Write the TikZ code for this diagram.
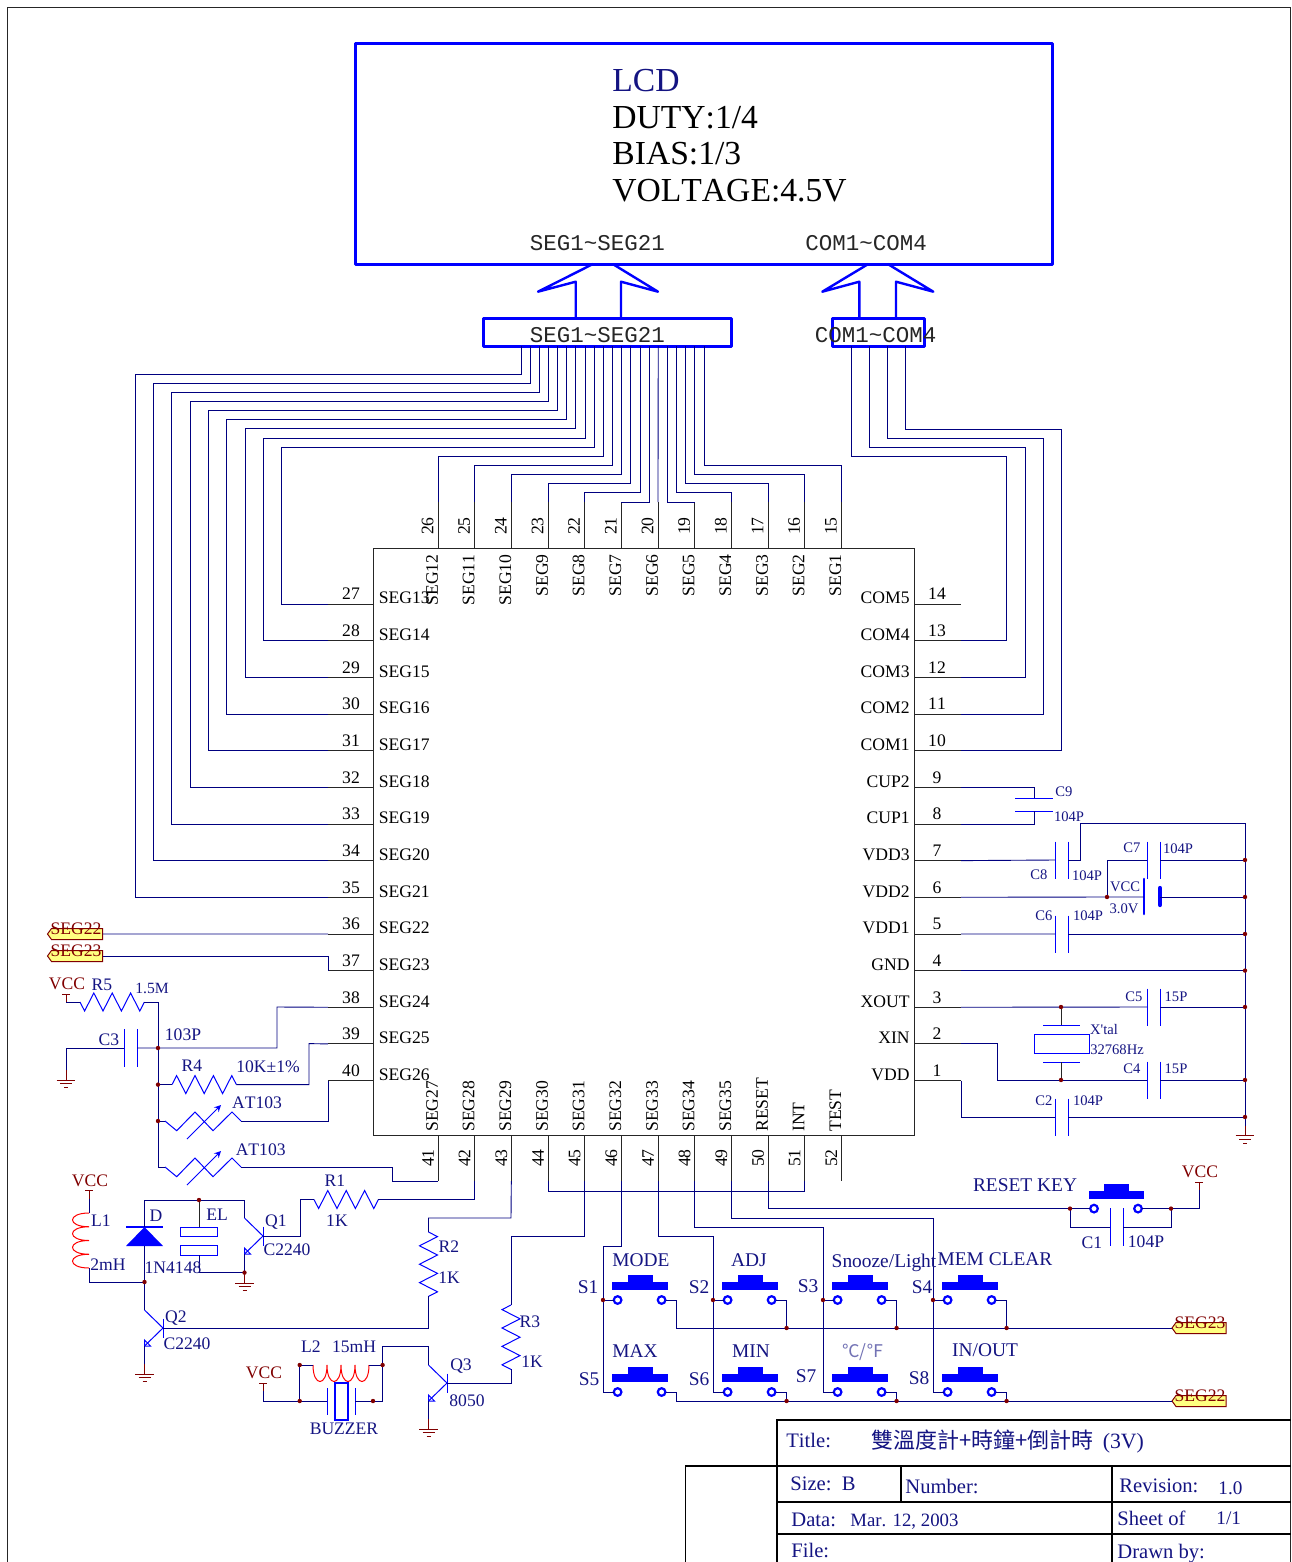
\documentclass[tikz,border=0pt]{standalone}
\usepackage{fontspec}
\setmainfont[Kerning=Off]{Liberation Serif}
\setmonofont{Liberation Mono}
\newfontfamily\cjk{Noto Sans CJK TC}

\definecolor{wirecol}{RGB}{0,0,128}
\definecolor{textcol}{RGB}{20,20,130}
\definecolor{netcol}{RGB}{128,0,0}
\definecolor{tagcol}{RGB}{255,255,128}

\tikzset{
    wire/.style={wirecol,line width=0.45pt},
    pinline/.style={black!85,line width=0.45pt},
    part/.style={blue,line width=0.5pt},
    coilline/.style={red,line width=0.5pt},
    netline/.style={netcol,line width=0.5pt},
    heavy/.style={blue,line width=1.5pt,line join=round},
    sheetline/.style={black,line width=0.9pt},
    box/.style={draw,inner sep=0pt},
    lab/.style={textcol,font=\fontsize{8.8}{10}\selectfont,inner sep=0pt,text height=5.8pt,text depth=0pt,yshift=-0.5pt},
    small/.style={lab,font=\fontsize{7.3}{9}\selectfont,text height=4.9pt},
    keylab/.style={lab,font=\fontsize{9.7}{11}\selectfont,text height=6.4pt},
    pinlab/.style={lab,black},
    netlab/.style={lab,netcol},
    sheetlab/.style={lab,anchor=west,font=\fontsize{10.3}{12}\selectfont,text height=6.8pt},
    lcdlab/.style={lab,anchor=west,font=\fontsize{16.8}{20}\selectfont,text height=11pt,yshift=0pt},
    buslab/.style={lab,black!85,font=\ttfamily\fontsize{11.25}{13}\selectfont,text height=6.6pt},
    jointdot/.style={fill=netcol}
}

% resistor, start point and swing
\newcommand{\resH}[3]{
    \begin{scope}[shift={(#2)}]
        \coordinate (#1a) at (0,0);
        \draw[part] (#1a) -- ++(4.6,#3) -- ++(9.2,-2*#3) -- ++(9.2,2*#3) -- ++(9.2,-2*#3)
            -- ++(9.2,2*#3) -- ++(9.2,-2*#3) -- ++(9.2,2*#3) -- ++(4.6,-#3) coordinate (#1b);
    \end{scope}
}
\newcommand{\resV}[3]{
    \begin{scope}[shift={(#2)}]
        \coordinate (#1a) at (0,0);
        \draw[part] (#1a) -- ++(#3,4.6) -- ++(-2*#3,9.2) -- ++(2*#3,9.2) -- ++(-2*#3,9.2)
            -- ++(2*#3,9.2) -- ++(-2*#3,9.2) -- ++(2*#3,9.2) -- ++(-#3,4.6) coordinate (#1b);
    \end{scope}
}
% thermistor
\newcommand{\therm}[2]{
    \begin{scope}[shift={(#2)}]
        \coordinate (#1a) at (0,0);
        \draw[part] (#1a) -- (11.7,9.7) -- (30,-9) -- (48,9.7) -- (67,-9) -- (76,0) coordinate (#1b);
        \draw[part,-stealth] (22,18) -- (56,-16);
    \end{scope}
}
% capacitors, plates 13 apart
\newcommand{\capV}[3]{
    \begin{scope}[shift={(#2)}]
        \coordinate (#1a) at (0,0);
        \coordinate (#1b) at (13,0);
        \draw[part] (0,-#3) -- (0,#3);
        \draw[part] (13,-#3) -- (13,#3);
    \end{scope}
}
\newcommand{\capH}[3]{
    \begin{scope}[shift={(#2)}]
        \coordinate (#1a) at (0,0);
        \coordinate (#1b) at (0,13);
        \draw[part] (-#3,0) -- (#3,0);
        \draw[part] (-#3,13) -- (#3,13);
    \end{scope}
}
% coils, four humps
\newcommand{\coilH}[2]{
    \begin{scope}[shift={(#2)}]
        \coordinate (#1a) at (0,0);
        \draw[coilline] (#1a) .. controls (0,22) and (14,22) .. (14,0)
            .. controls (14,22) and (28,22) .. (28,0)
            .. controls (28,22) and (42,22) .. (42,0)
            .. controls (42,22) and (56,22) .. (56,0) coordinate (#1b);
    \end{scope}
}
\newcommand{\coilV}[2]{
    \begin{scope}[shift={(#2)}]
        \coordinate (#1a) at (0,0);
        \draw[coilline] (#1a) .. controls (-22,0) and (-22,13.75) .. (0,13.75)
            .. controls (-22,13.75) and (-22,27.5) .. (0,27.5)
            .. controls (-22,27.5) and (-22,41.25) .. (0,41.25)
            .. controls (-22,41.25) and (-22,55) .. (0,55) coordinate (#1b);
    \end{scope}
}
% transistor, at its base bar
\newcommand{\npn}[2]{
    \begin{scope}[shift={(#2)}]
        \coordinate (#1b) at (0,0);
        \coordinate (#1c) at (-18.5,-18);
        \coordinate (#1e) at (-18.5,18);
        \draw[part] (0,-9.5) -- (0,9.5);
        \draw[part] (#1c) -- (#1b) -- (#1e);
        \draw[part] (#1e) -- ++(0,-6) -- ++(6,6) -- cycle;
    \end{scope}
}
% push button, at its left contact
\newcommand{\swt}[2]{
    \begin{scope}[shift={(#2)}]
        \coordinate (#1j) at (-14.6,0);
        \coordinate (#1l) at (-4,0);
        \coordinate (#1r) at (48,0);
        \coordinate (#1k) at (59,0);
        \fill[blue] (-5.5,-18) rectangle (50,-10);
        \fill[blue] (10,-25) rectangle (35,-18);
        \draw[blue,line width=1.1pt,fill=white] (0,0) circle (1.9pt);
        \draw[blue,line width=1.1pt,fill=white] (44,0) circle (1.9pt);
    \end{scope}
}
% supply, ground, net tag
\newcommand{\vcc}[2]{
    \begin{scope}[shift={(#2)}]
        \coordinate (#1f) at (0,8);
        \draw[netline] (-4,0) -- (4,0);
        \draw[netline] (0,0) -- (#1f);
        \node[netlab] (#1t) at (1,-11) {VCC};
    \end{scope}
}
\newcommand{\gnd}[2]{
    \begin{scope}[shift={(#2)}]
        \coordinate (#1) at (0,-10);
        \draw[netline] (#1) -- (0,0);
        \draw[netline] (-9.3,0) -- (9.3,0);
        \draw[netline] (-6,3.5) -- (6,3.5);
        \draw[netline] (-2,7.5) -- (2,7.5);
    \end{scope}
}
\newcommand{\nettag}[4]{
    \begin{scope}[shift={(#2)}]
        \coordinate (#1a) at (0,0);
        \coordinate (#1b) at (#3,0);
        \draw[netcol,line width=0.5pt,fill=tagcol] (#1a) -- (4,-5.5) -- (#3,-5.5) -- (#3,5.5) -- (4,5.5) -- cycle;
        \node[netlab] (#1t) at (#3/2+1,-6) {#4};
    \end{scope}
}

\begin{document}
\begin{tikzpicture}[x=0.5pt,y=-0.5pt]
    \useasboundingbox (0,0) rectangle (1291,1562);
    %Frame
        \draw[pinline] (7,1562)--(7,7)--(1290,7)--(1290,1562);
    %LCD
        \node[box,heavy,minimum width=348.5pt,minimum height=110pt] (lcd) at (703.5,154) {};
        \node[lcdlab,textcol] (lcdname) at (612,80) {LCD};
        \node[lcdlab,black] (lcdduty) at (612,117) {DUTY:1/4};
        \node[lcdlab,black] (lcdbias) at (612,153) {BIAS:1/3};
        \node[lcdlab,black] (lcdvolt) at (612,190) {VOLTAGE:4.5V};
        \node[buslab] (lcdseg) at (597.5,243) {SEG1\textasciitilde SEG21};
        \node[buslab] (lcdcom) at (866,243) {COM1\textasciitilde COM4};
    %Bus
        \node[box,heavy,minimum width=124pt,minimum height=14pt] (segbus) at (607,332) {};
        \node[box,heavy,minimum width=46pt,minimum height=14pt] (combus) at (878,332) {};
        \node[buslab] (segbusname) at (597.5,335) {SEG1\textasciitilde SEG21};
        \node[buslab] (combusname) at (875.5,335) {COM1\textasciitilde COM4};
        \draw[heavy,line width=1.2pt] (575.7,318)--(575.7,281.7)--(538,291.7)--(593,264);
        \draw[heavy,line width=1.2pt] (612.7,264)--(658,291.7)--(621,281.7)--(621,318);
        \draw[heavy,line width=1.2pt] (859.3,318)--(859.3,281.7)--(822.3,291.7)--(868.3,264);
        \draw[heavy,line width=1.2pt] (887.7,264)--(933.3,291.7)--(896,281.7)--(896,318);
    %Chip
        \node[box,pinline,minimum width=270.5pt,minimum height=293.5pt] (chip) at (643.8,841.5) {};
        \foreach \t [count=\k from 0] in {SEG13,SEG14,SEG15,SEG16,SEG17,SEG18,SEG19,SEG20,SEG21,SEG22,SEG23,SEG24,SEG25,SEG26}{
            \pgfmathsetmacro{\y}{604+36.66*\k}
            \pgfmathtruncatemacro{\n}{27+\k}
            \coordinate (p\n) at (328,\y);
            \draw[pinline] (p\n) -- (374,\y);
            \node[pinlab,anchor=west] (name\n) at (378.5,\y-7) {\t};
            \node[pinlab] (num\n) at (351,\y-11) {\n};
        }
        \foreach \t [count=\k from 0] in {COM5,COM4,COM3,COM2,COM1,CUP2,CUP1,VDD3,VDD2,VDD1,GND,XOUT,XIN,VDD}{
            \pgfmathsetmacro{\y}{604+36.66*\k}
            \pgfmathtruncatemacro{\n}{14-\k}
            \coordinate (p\n) at (961,\y);
            \draw[pinline] (914,\y) -- (p\n);
            \node[pinlab,anchor=east] (name\n) at (910,\y-7) {\t};
            \node[pinlab] (num\n) at (937,\y-11) {\n};
        }
        \foreach \t [count=\k from 0] in {SEG12,SEG11,SEG10,SEG9,SEG8,SEG7,SEG6,SEG5,SEG4,SEG3,SEG2,SEG1}{
            \pgfmathsetmacro{\x}{438+36.66*\k}
            \pgfmathtruncatemacro{\n}{26-\k}
            \coordinate (p\n) at (\x,502);
            \draw[pinline] (p\n) -- (\x,548);
            \node[pinlab,rotate=90,anchor=east] (name\n) at (\x-6,553) {\t};
            \node[pinlab,rotate=90] (num\n) at (\x-10.5,525) {\n};
        }
        \foreach \t [count=\k from 0] in {SEG27,SEG28,SEG29,SEG30,SEG31,SEG32,SEG33,SEG34,SEG35,RESET,INT,TEST}{
            \pgfmathsetmacro{\x}{438+36.66*\k}
            \pgfmathtruncatemacro{\n}{41+\k}
            \coordinate (p\n) at (\x,1181);
            \draw[pinline] (\x,1135) -- (p\n);
            \node[pinlab,rotate=90,anchor=west] (name\n) at (\x-6,1131) {\t};
            \node[pinlab,rotate=90] (num\n) at (\x-10,1157) {\n};
        }
    %Bus wires
        \foreach \i [evaluate=\i as \sx using 521+9.15*\i] in {0,...,20}{
            \coordinate (s\i) at (\sx,346);
        }
        \foreach \i/\n/\lane in {0/35/135,1/34/153.3,2/33/171.6,3/32/190,4/31/208.3,5/30/226.6,6/29/245,7/28/263.3,8/27/281.6}{
            \draw[wire] (s\i) |- (\lane,374+9.15*\i) |- (p\n);
        }
        \foreach \i/\n/\drop in {9/26/110,10/25/119,11/24/128.5,12/23/137.6,13/22/146.8,14/21/156,16/19/156,17/18/146.8,18/17/137.6,19/16/128.5,20/15/119}{
            \draw[wire] (s\i) -- ++(0,\drop) -| (p\n);
        }
        \draw[wire] (s15) -- (p20);
        \coordinate (c1) at (851,346);
        \coordinate (c2) at (869,346);
        \coordinate (c3) at (887,346);
        \coordinate (c4) at (905,346);
        \draw[wire] (c1) |- (1006,456) |- (p13);
        \draw[wire] (c2) |- (1025,447) |- (p12);
        \draw[wire] (c3) |- (1043,438) |- (p11);
        \draw[wire] (c4) |- (1061,429) |- (p10);
    %Right side
        \coordinate (rail) at (1245,823);
        \coordinate (jbat) at (1107,897);
        \coordinate (jxa) at (1061,1007);
        \coordinate (jxb) at (1061,1080);
        \capH{C9}{1034,798}{19}
        \capV{C8}{1055,860}{18.5}
        \capV{C7}{1147,860}{18.5}
        \capV{C6}{1055,934}{18.5}
        \capV{C5}{1147,1007}{18.5}
        \capV{C4}{1147,1080}{18.5}
        \capV{C2}{1055,1117}{18.5}
        \coordinate (BTa) at (1144,897);
        \coordinate (BTb) at (1160,897);
        \draw[blue,line width=1.3pt,line cap=round] (1144,879)--(1144,914);
        \draw[blue,line width=2.1pt,line cap=round] (1160,888)--(1160,905);
        \draw[wire] (p9) -| (C9a);
        \draw[wire] (p8) -| (C9b);
        \draw[wire] (p7) -- (C8a);
        \draw[wire] (C8b) -| (1080,823) -- (rail);
        \draw[wire] (p6) -- (jbat) -- (BTa);
        \draw[wire] (BTb) -- (rail |- BTb);
        \draw[wire] (jbat) |- (C7a);
        \draw[wire] (C7b) -- (rail |- C7b);
        \draw[wire] (p5) -- (C6a);
        \draw[wire] (C6b) -- (rail |- C6b);
        \draw[wire] (p4) -- (rail |- p4);
        \draw[wire] (p3) -- (C5a);
        \draw[wire] (C5b) -- (rail |- C5b);
        \draw[wire] (p2) -| (997,1080) -- (C4a);
        \draw[wire] (C4b) -- (rail |- C4b);
        \draw[wire] (p1) |- (C2a);
        \draw[wire] (C2b) -- (rail |- C2b);
        \gnd{Gr}{1245,1135.7}
        \draw[wire] (rail) -- (Gr);
        %crystal
        \draw[part] (1043,1025) -- (1080,1025);
        \draw[part] (1043,1062) -- (1080,1062);
        \draw[part] (1034,1034) rectangle (1089,1053);
        \draw[pinline] (jxa) -- (1061,1025);
        \draw[pinline] (jxb) -- (1061,1062);
        \node[small] (lC9) at (1064,791) {C9};
        \node[small] (vC9) at (1069,816) {104P};
        \node[small] (lC8) at (1039,874) {C8};
        \node[small] (vC8) at (1087,875) {104P};
        \node[small] (lC7) at (1132,847) {C7};
        \node[small] (vC7) at (1178,848) {104P};
        \node[small] (lBT) at (1125,886) {VCC};
        \node[small] (vBT) at (1124,908) {3.0V};
        \node[small] (lC6) at (1044,915) {C6};
        \node[small] (vC6) at (1088,915) {104P};
        \node[small] (lC5) at (1134,996) {C5};
        \node[small] (vC5) at (1176,996) {15P};
        \node[small] (lX1) at (1104,1029) {X\textquotesingle tal};
        \node[small] (vX1) at (1117,1049) {32768Hz};
        \node[small] (lC4) at (1132,1068) {C4};
        \node[small] (vC4) at (1176,1068) {15P};
        \node[small] (lC2) at (1044,1100) {C2};
        \node[small] (vC2) at (1088,1100) {104P};
    %Left side
        \nettag{T22}{47.5,934}{55}{SEG22}
        \nettag{T23}{47.5,956}{55}{SEG23}
        \draw[wire] (T22b) -- (p36);
        \draw[wire] (T23b) -| (p37);
        \coordinate (jc3) at (158,1048);
        \coordinate (jr4) at (158,1084.6);
        \coordinate (jt1) at (158,1121);
        \vcc{V1}{66,994}
        \resH{R5}{80,1002}{9}
        \capV{C3}{124,1048}{19}
        \gnd{G0}{66,1080}
        \resH{R4}{172,1084.6}{-9}
        \therm{TH1}{165,1121}
        \therm{TH2}{165,1167}
        \draw[wire] (V1f) -- (R5a);
        \draw[wire] (R5b) -- (158,1002) |- (TH2a);
        \draw[wire] (G0) |- (C3a);
        \draw[wire] (C3b) -- (jc3) -| (277,1007) -- (p38);
        \draw[wire] (jr4) -- (R4a);
        \draw[wire] (R4b) -| (309,1043.6) -- (p39);
        \draw[wire] (jt1) -- (TH1a);
        \draw[wire] (TH1b) -| (p40);
        \draw[wire] (TH2b) -| (392,1181) -- (p41);
        \node[lab] (lR5) at (102,984) {R5};
        \node[small,font=\fontsize{7.8}{9}\selectfont] (vR5) at (152,988) {1.5M};
        \node[lab] (lC3) at (109,1039) {C3};
        \node[lab] (vC3) at (183,1034) {103P};
        \node[lab] (lR4) at (192,1065) {R4};
        \node[lab] (vR4) at (268,1066) {10K±1\%};
        \node[lab] (vTH1) at (257,1102) {AT103};
        \node[lab] (vTH2) at (260.7,1149) {AT103};
    %Light and buzzer
        \coordinate (jd) at (144.5,1282);
        \coordinate (jel) at (199,1200);
        \coordinate (jq1) at (244.5,1272.6);
        \vcc{V2}{89,1190.7}
        \coilV{L1}{89,1213}
        \fill[blue] (144.5,1227) -- (163,1246) -- (126,1246) -- cycle;
        \draw[part,line width=0.7pt] (126,1227) -- (163,1227);
        \coordinate (Dk) at (144.5,1227);
        \coordinate (Da) at (144.5,1246);
        \draw[part] (180.7,1227) rectangle (217.7,1236);
        \draw[part] (180.7,1245) rectangle (217.7,1255);
        \npn{Q1}{263,1236}
        \gnd{G1}{244.5,1283}
        \resH{R1}{314,1199.5}{9}
        \npn{Q2}{163,1328}
        \gnd{G2}{144.5,1374}
        \resV{R2}{428.5,1232}{9}
        \resV{R3}{511,1305}{-9}
        \draw[wire] (V2f) -- (L1a);
        \draw[wire] (L1b) |- (jd);
        \draw[wire] (Dk) |- (jel);
        \draw[wire] (jel) -| (Q1c);
        \draw[wire] (Da) -- (jd) -- (Q2c);
        \draw[pinline] (jel) -- (199,1227);
        \draw[wire] (199,1255) |- (jq1);
        \draw[wire] (Q1e) -- (jq1) -- (G1);
        \draw[wire] (Q1b) -| (300,1199.5) -- (R1a);
        \draw[wire] (R1b) -| (p42);
        \draw[wire] (Q2b) -| (R2b);
        \draw[wire] (R2a) |- (511,1218) -- (p43);
        \draw[wire] (Q2e) -- (G2);
        \draw[wire] (p45) |- (511,1236) -- (R3a);
        \coordinate (jl2a) at (299.7,1365);
        \coordinate (jl2b) at (382.6,1365);
        \coordinate (jbza) at (299.7,1401);
        \coordinate (jbzb) at (373,1401);
        \vcc{V4}{263,1383}
        \coilH{L2}{313,1365}
        \draw[part] (327,1388) -- (327,1415);
        \draw[part] (355,1388) -- (355,1415);
        \draw[part,line width=0.7pt] (335,1383) rectangle (348,1420);
        \npn{Q3}{447,1383}
        \gnd{G3}{428.5,1429}
        \draw[wire] (jl2a) -- (L2a);
        \draw[wire] (L2b) -- (jl2b);
        \draw[wire] (jl2a) -- (jbza);
        \draw[wire] (jbza) -- (327,1401);
        \draw[wire] (jbza) -| (V4f);
        \draw[wire] (355,1401) -- (jbzb) -- (382.6,1401) -- (382.6,1346) -| (Q3c);
        \draw[wire] (Q3b) -| (R3b);
        \draw[wire] (Q3e) -- (G3);
        \node[lab] (lL1) at (101,1220) {L1};
        \node[lab] (vL1) at (108,1264) {2mH};
        \node[lab] (lD) at (156,1215) {D};
        \node[lab] (vD) at (173,1267) {1N4148};
        \node[lab] (lEL) at (217,1214) {EL};
        \node[lab] (lQ1) at (276,1220) {Q1};
        \node[lab] (vQ1) at (287,1249) {C2240};
        \node[lab] (lR1) at (335,1180) {R1};
        \node[lab] (vR1) at (337,1220) {1K};
        \node[lab] (lR2) at (449,1246) {R2};
        \node[lab] (vR2) at (449,1277) {1K};
        \node[lab] (lR3) at (530,1321) {R3};
        \node[lab] (vR3) at (532,1361) {1K};
        \node[lab] (lQ2) at (176,1316) {Q2};
        \node[lab] (vQ2) at (187,1343) {C2240};
        \node[lab] (lQ3) at (461,1364) {Q3};
        \node[lab] (vQ3) at (467,1400) {8050};
        \node[lab] (lL2) at (311,1346) {L2};
        \node[lab] (vL2) at (354,1346) {15mH};
        \node[lab] (lBZ) at (344,1428) {BUZZER};
    %Keys
        \swt{S1}{617.6,1300}
        \swt{S2}{727.6,1300}
        \swt{S3}{837.6,1300}
        \swt{S4}{947.6,1300}
        \swt{S5}{617.6,1392}
        \swt{S6}{727.6,1392}
        \swt{S7}{837.6,1392}
        \swt{S8}{947.6,1392}
        \swt{RK}{1094,1208.6}
        \nettag{T23r}{1172,1328}{54}{SEG23}
        \nettag{T22r}{1172,1401}{54}{SEG22}
        \draw[wire] (p44) -- ++(0,10) -| (p51);
        \foreach \n/\top/\low/\lane in {46/S1/S5/1246,47/S2/S6/1236,48/S3/S7/1227,49/S4/S8/1218}{
            \draw[wire] (p\n) |- (\low j |- 0,\lane) |- (\low l);
            \draw[wire] (\top j) -- (\top l);
        }
        \foreach \top in {S1,S2,S3,S4}{
            \draw[wire] (\top r) -- (\top k) |- (T23ra);
        }
        \foreach \low in {S5,S6,S7,S8}{
            \draw[wire] (\low r) -- (\low k) |- (T22ra);
        }
        %reset
        \coordinate (jra) at (1070,1208.6);
        \coordinate (jrb) at (1171,1208.6);
        \vcc{V3}{1199,1182}
        \capV{C1}{1110,1227}{19}
        \draw[wire] (p50) |- (jra) -- (RKl);
        \draw[wire] (RKr) -- (jrb) -| (V3f);
        \draw[wire] (jra) |- (C1a);
        \draw[wire] (C1b) -| (jrb);
        \node[lab] (lC1) at (1092,1242) {C1};
        \node[lab] (vC1) at (1146,1241) {104P};
        \node[keylab] (lRK) at (1025,1184) {RESET KEY};
        \node[keylab] (nS1) at (641,1259) {MODE};
        \node[keylab] (nS2) at (749,1259) {ADJ};
        \node[keylab] (nS3) at (884,1260) {Snooze/Light};
        \node[keylab] (nS4) at (995,1258) {MEM CLEAR};
        \node[keylab] (nS5) at (635,1350) {MAX};
        \node[keylab] (nS6) at (751,1350) {MIN};
        \node[lab,text=textcol!60,font=\cjk\fontsize{8.75}{10}\selectfont] (nS7) at (863,1351) {℃/℉};
        \node[keylab] (nS8) at (985,1349) {IN/OUT};
        \node[keylab] (lS1) at (588,1286) {S1};
        \node[keylab] (lS2) at (699,1286) {S2};
        \node[keylab] (lS3) at (808,1285) {S3};
        \node[keylab] (lS4) at (922,1286) {S4};
        \node[keylab] (lS5) at (589,1378) {S5};
        \node[keylab] (lS6) at (699,1378) {S6};
        \node[keylab] (lS7) at (806,1375) {S7};
        \node[keylab] (lS8) at (919,1377) {S8};
    %Dots
        \foreach \d in {jbat,jxa,jxb,jc3,jr4,jt1,jd,jel,jq1,jl2a,jl2b,jbza,jbzb,jra,jrb,S1j,S2j,S3j,S4j}{
            \fill[jointdot] (\d) circle (1.1pt);
        }
        \foreach \d in {C7b,BTb,C6b,p4,C5b,C4b,C2b}{
            \fill[jointdot] (rail |- \d) circle (1.1pt);
        }
        \foreach \d in {S2k,S3k,S4k}{
            \fill[jointdot] (\d |- T23ra) circle (1.1pt);
        }
        \foreach \d in {S6k,S7k,S8k}{
            \fill[jointdot] (\d |- T22ra) circle (1.1pt);
        }
    %Title block
        \draw[sheetline] (777,1562)--(777,1420)--(1291,1420);
        \draw[sheetline] (685.5,1562)--(685.5,1465.6)--(1291,1465.6);
        \draw[sheetline] (777,1501.7)--(1291,1501.7);
        \draw[sheetline] (777,1534)--(1291,1534);
        \draw[sheetline] (901,1465.6)--(901,1501.7);
        \draw[sheetline] (1112,1465.6)--(1112,1562);
        \node[sheetlab] (blktitle) at (786,1440) {Title:};
        \node[sheetlab] (blkname) at (871,1441) {{\cjk\fontsize{11}{13}\selectfont 雙溫度計+時鐘+倒計時}\hspace{4.5pt}{\fontsize{10.9}{13}\selectfont (3V)}};
        \node[sheetlab] (blksize) at (790,1483) {Size:\ \ B};
        \node[sheetlab] (blknum) at (905,1486) {Number:};
        \node[sheetlab] (blkrev) at (1119,1485) {Revision:};
        \node[sheetlab,font=\fontsize{9.6}{11}\selectfont] (blkrevval) at (1218,1487) {1.0};
        \node[sheetlab] (blkdata) at (791,1519) {Data:};
        \node[sheetlab,font=\fontsize{9.4}{11}\selectfont] (blkdate) at (850,1519) {Mar. 12, 2003};
        \node[sheetlab] (blksheet) at (1117,1518) {Sheet of};
        \node[sheetlab,font=\fontsize{9.6}{11}\selectfont] (blksheetval) at (1216,1517) {1/1};
        \node[sheetlab] (blkfile) at (791,1550) {File:};
        \node[sheetlab] (blkdrawn) at (1117,1551) {Drawn by:};
\end{tikzpicture}
\end{document}
